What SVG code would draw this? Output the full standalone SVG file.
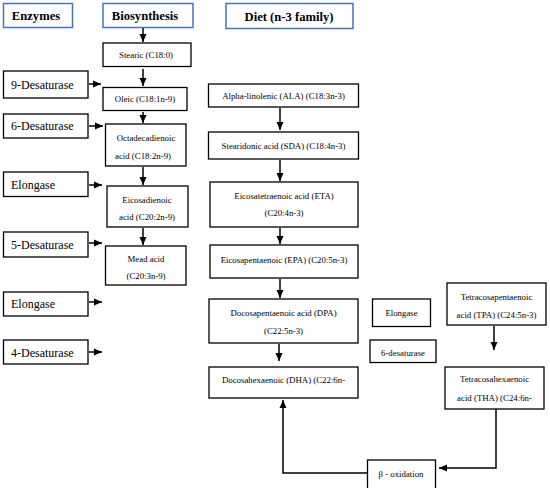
<svg xmlns="http://www.w3.org/2000/svg" width="550" height="488" viewBox="0 0 550 488">
<defs>
<marker id="ah" markerUnits="userSpaceOnUse" markerWidth="8" markerHeight="8" viewBox="0 0 8 8" refX="8" refY="4" orient="auto">
<path d="M0,0.5 L8,4 L0,7.5 Z" fill="#000"/>
</marker>
<style>
.hdr{fill:#fff;stroke:#4472c4;stroke-width:1.5}
.box{fill:#fff;stroke:#000;stroke-width:1.3}
.ht{font-family:"Liberation Serif",serif;font-weight:bold;font-size:12.6px;fill:#000;text-anchor:middle}
.et{font-family:"Liberation Serif",serif;font-size:12px;fill:#000}
.nt{font-family:"Liberation Serif",serif;font-size:8.8px;fill:#000;text-anchor:middle}
.st{font-family:"Liberation Serif",serif;font-size:8.8px;fill:#000;text-anchor:middle}
.c{fill:none;stroke:#000;stroke-width:1.5;marker-end:url(#ah)}
</style>
</defs>
<rect width="550" height="488" fill="#fff"/>

<g id="hdr-enzymes"><rect class="hdr" x="3.5" y="3.5" width="69" height="24"/><text class="ht" x="36" y="20">Enzymes</text></g>
<g id="hdr-bio"><rect class="hdr" x="103" y="3.5" width="90" height="24"/><text class="ht" x="145" y="20">Biosynthesis</text></g>
<g id="hdr-diet"><rect class="hdr" x="226" y="3.5" width="127" height="25"/><text class="ht" x="289" y="21">Diet (n-3 family)</text></g>

<g id="e-9des"><rect class="box" x="3.5" y="71" width="84.5" height="27"/><text class="et" x="11" y="89">9-Desaturase</text></g>
<g id="e-6des"><rect class="box" x="3.5" y="114" width="84.5" height="24"/><text class="et" x="11" y="130">6-Desaturase</text></g>
<g id="e-elo1"><rect class="box" x="3.5" y="172" width="84.5" height="24.5"/><text class="et" x="11" y="189">Elongase</text></g>
<g id="e-5des"><rect class="box" x="3.5" y="232" width="84.5" height="25"/><text class="et" x="11" y="249">5-Desaturase</text></g>
<g id="e-elo2"><rect class="box" x="3.5" y="292" width="84.5" height="24"/><text class="et" x="11" y="308">Elongase</text></g>
<g id="e-4des"><rect class="box" x="3.5" y="340" width="84.5" height="24"/><text class="et" x="11" y="357">4-Desaturase</text></g>

<g id="b-stearic"><rect class="box" x="103" y="43" width="88" height="23.5"/><text class="nt" x="146" y="58">Stearic (C18:0)</text></g>
<g id="b-oleic"><rect class="box" x="103" y="87.5" width="84" height="23"/><text class="nt" x="145" y="102">Oleic (C18:1n-9)</text></g>
<g id="b-octa"><rect class="box" x="105.5" y="124" width="80.5" height="42"/><text class="nt" x="146" y="141">Octadecadienoic</text><text class="nt" x="143" y="158.5">acid (C18:2n-9)</text></g>
<g id="b-eicosa"><rect class="box" x="107" y="186" width="81" height="41"/><text class="nt" x="147" y="203">Eicosadienoic</text><text class="nt" x="147" y="220">acid (C20:2n-9)</text></g>
<g id="b-mead"><rect class="box" x="105.5" y="246" width="80.5" height="39"/><text class="nt" x="146" y="262">Mead acid</text><text class="nt" x="146" y="279">(C20:3n-9)</text></g>

<g id="d-ala"><rect class="box" x="208.5" y="84" width="150" height="23"/><text class="nt" x="283.5" y="98.5">Alpha-linolenic (ALA) (C18:3n-3)</text></g>
<g id="d-sda"><rect class="box" x="208.5" y="132" width="150" height="27"/><text class="nt" x="283.5" y="149">Stearidonic acid (SDA) (C18:4n-3)</text></g>
<g id="d-eta"><rect class="box" x="210" y="182" width="148" height="45"/><text class="nt" x="284" y="199">Eicosatetraenoic acid (ETA)</text><text class="nt" x="284" y="216">(C20:4n-3)</text></g>
<g id="d-epa"><rect class="box" x="210" y="245" width="148" height="33"/><text class="nt" x="284" y="263">Eicosapentaenoic (EPA) (C20:5n-3)</text></g>
<g id="d-dpa"><rect class="box" x="209" y="299" width="149" height="44"/><text class="nt" x="283.5" y="316">Docosapentaenoic acid (DPA)</text><text class="nt" x="283.5" y="334">(C22:5n-3)</text></g>
<g id="d-dha"><rect class="box" x="209" y="367" width="149" height="31"/><text class="nt" x="283.5" y="383">Docosahexaenoic (DHA) (C22:6n-</text></g>

<g id="s-elo"><rect class="box" x="372.5" y="299" width="58" height="27.5"/><text class="st" x="401.5" y="316">Elongase</text></g>
<g id="s-6des"><rect class="box" x="370" y="340" width="66" height="22.5"/><text class="st" x="403" y="356">6-desaturase</text></g>
<g id="s-tpa"><rect class="box" x="447" y="283" width="99" height="42"/><text class="st" x="496.5" y="300">Tetracosapentaenoic</text><text class="st" x="496.5" y="318">acid (TPA) (C24:5n-3)</text></g>
<g id="s-tha"><rect class="box" x="445" y="367" width="99" height="42"/><text class="st" x="494.5" y="382">Tetracosahexaenoic</text><text class="st" x="494.5" y="401">acid (THA) (C24:6n-</text></g>
<g id="s-beta"><rect class="box" x="367.5" y="460" width="68" height="30"/><text class="st" x="401" y="477">β - oxidation</text></g>

<g id="connectors">
<line class="c" x1="143" y1="28" x2="143" y2="42"/>
<line class="c" x1="143" y1="69" x2="143" y2="86"/>
<line class="c" x1="143" y1="112" x2="143" y2="123"/>
<line class="c" x1="143" y1="167" x2="143" y2="185"/>
<line class="c" x1="143" y1="228" x2="143" y2="245"/>
<line class="c" x1="89" y1="84" x2="101" y2="84"/>
<line class="c" x1="89" y1="126" x2="103" y2="126"/>
<line class="c" x1="89" y1="185" x2="102" y2="185"/>
<line class="c" x1="89" y1="243" x2="102" y2="243"/>
<line class="c" x1="89" y1="302" x2="102" y2="302"/>
<line class="c" x1="89" y1="352" x2="102" y2="352"/>
<line class="c" x1="280" y1="108" x2="280" y2="130"/>
<line class="c" x1="280" y1="160" x2="280" y2="181"/>
<line class="c" x1="280" y1="228" x2="280" y2="244"/>
<line class="c" x1="280" y1="279" x2="280" y2="298"/>
<line class="c" x1="279" y1="344" x2="279" y2="361"/>
<line class="c" x1="494" y1="326" x2="494" y2="350"/>
<polyline class="c" points="496,409 496,468 439,468"/>
<polyline class="c" points="367,473 283,473 283,400"/>
</g>
</svg>
